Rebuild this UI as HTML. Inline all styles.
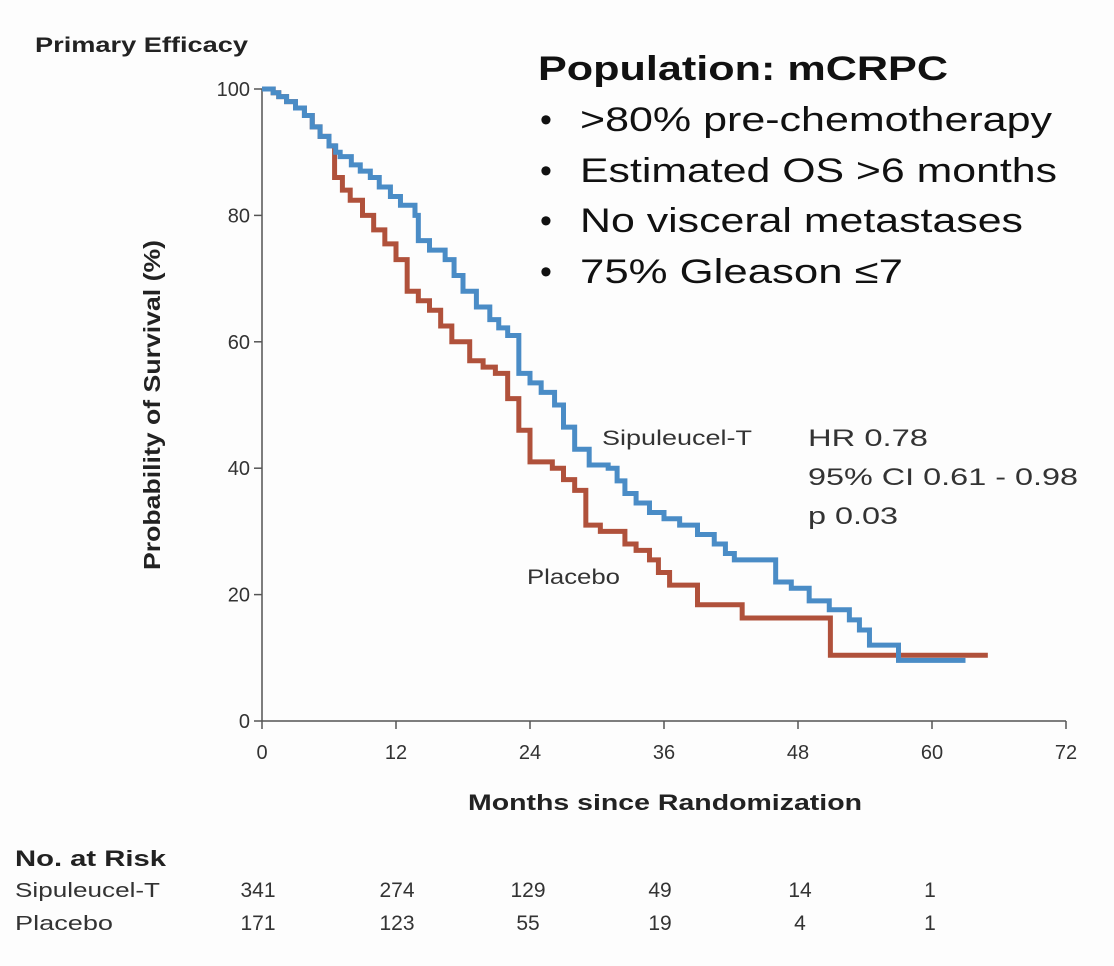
<!DOCTYPE html>
<html><head><meta charset="utf-8"><style>
body{margin:0;background:#fff;}
svg{display:block;font-family:"Liberation Sans",sans-serif;}
</style></head><body>
<svg width="1114" height="966" viewBox="0 0 1114 966">
<rect width="1114" height="966" fill="#fdfdfd"/>
<text x="35" y="52" font-size="21" font-weight="bold" fill="#222" textLength="213" lengthAdjust="spacingAndGlyphs">Primary Efficacy</text>
<g fill="#111">
<text x="538" y="80" font-size="34" font-weight="bold" textLength="410" lengthAdjust="spacingAndGlyphs">Population: mCRPC</text>
<text x="540" y="131" font-size="34">•</text>
<text x="580" y="131" font-size="34" textLength="472" lengthAdjust="spacingAndGlyphs">&gt;80% pre-chemotherapy</text>
<text x="540" y="182" font-size="34">•</text>
<text x="580" y="182" font-size="34" textLength="477" lengthAdjust="spacingAndGlyphs">Estimated OS &gt;6 months</text>
<text x="540" y="232" font-size="34">•</text>
<text x="580" y="232" font-size="34" textLength="443" lengthAdjust="spacingAndGlyphs">No visceral metastases</text>
<text x="540" y="283" font-size="34">•</text>
<text x="580" y="283" font-size="34" textLength="323" lengthAdjust="spacingAndGlyphs">75% Gleason ≤7</text>
</g>
<g fill="#333" font-size="24">
<text x="808" y="446" textLength="120" lengthAdjust="spacingAndGlyphs">HR 0.78</text>
<text x="808" y="485" textLength="270" lengthAdjust="spacingAndGlyphs">95% CI 0.61 - 0.98</text>
<text x="808" y="524" textLength="90" lengthAdjust="spacingAndGlyphs">p 0.03</text>
</g>
<g id="axes"></g>
<g id="curves"></g>
<text x="602" y="445" font-size="21" fill="#333" textLength="150" lengthAdjust="spacingAndGlyphs">Sipuleucel-T</text>
<text x="527" y="584" font-size="21" fill="#333" textLength="93" lengthAdjust="spacingAndGlyphs">Placebo</text>
<text transform="translate(160,405) rotate(-90)" text-anchor="middle" font-size="23" font-weight="bold" fill="#222" textLength="330" lengthAdjust="spacingAndGlyphs">Probability of Survival (%)</text>
<text x="665" y="810" text-anchor="middle" font-size="22" font-weight="bold" fill="#222" textLength="394" lengthAdjust="spacingAndGlyphs">Months since Randomization</text>
<text x="15" y="866" font-size="22" font-weight="bold" fill="#222" textLength="151" lengthAdjust="spacingAndGlyphs">No. at Risk</text>
<text x="15" y="897" font-size="20" fill="#333" textLength="145" lengthAdjust="spacingAndGlyphs">Sipuleucel-T</text>
<text x="15" y="930" font-size="20" fill="#333" textLength="98" lengthAdjust="spacingAndGlyphs">Placebo</text>
<g id="risk"></g>
</svg>
<script>
const xTicks=[0,12,24,36,48,60,72];
const yTicks=[0,20,40,60,80,100];
const sipMonths=[0,1,1.5,2.2,3,3.8,4.5,5.2,6,6.6,7,8,8.8,9.7,10.5,11.5,12.4,13.7,14,15,16.4,17.2,18,19.2,20.4,21.2,22,23,24,25,26.2,27,28,29.3,31,31.8,32.5,33.5,34.7,36,37.4,39,40.5,41.5,42.3,44.6,46,47.4,49,50.8,52.6,53.5,54.4,56.7,57,63];
const sipSurv=[100,99.4,98.8,98,97,95.8,94,92.5,91,90,89.3,88,87,86,84.5,83,81.6,80,76,74.5,73,70.5,68,65.5,63.5,62.2,61,55,53.5,52,50,46.5,43,40.5,40,38,36,34.5,33,32,31,29.5,28,26.5,25.5,25.5,22,21,19,17.6,16,14.4,12,12,9.6,9.6];
const plaMonths=[0,1,1.5,2.2,3,3.8,4.5,5.2,6,6.5,7.2,7.9,9,10,11,12,13,14,15,16,17,18.6,19.8,20.9,22,23,24,26,27,28,29,30.3,32.5,33.5,34.7,35.5,36.5,39,43,50.9,65];
const plaSurv=[100,99.4,98.8,98,97,95.8,94,92.5,91,86,84,82.4,80,77.7,75.5,73,68,66.5,65,62.5,60,57,56,55,51,46,41,40,38.2,36.5,31,30,28,27,25.5,23.5,21.5,18.4,16.3,10.4,10.4];
const riskSip=[341,274,129,49,14,1];
const riskPla=[171,123,55,19,4,1];
const NS='http://www.w3.org/2000/svg';
const X=m=>262+m*(1066-262)/72;
const Y=p=>721-p*(721-89)/100;
function mk(t,a,p){const e=document.createElementNS(NS,t);for(const k in a)e.setAttribute(k,a[k]);p.appendChild(e);return e;}
const ax=document.getElementById('axes');
const yl=mk('line',{x1:262,y1:89,x2:262,y2:721,stroke:'#555','stroke-width':1.5},ax);


const xl=mk('line',{x1:262,y1:721,x2:1066,y2:721,stroke:'#555','stroke-width':1.5},ax);


yTicks.forEach(v=>{
 mk('line',{x1:254,y1:Y(v),x2:262,y2:Y(v),stroke:'#555','stroke-width':1.5},ax);
 const t=mk('text',{x:250,y:Y(v)+7,'text-anchor':'end','font-size':20,fill:'#333'},ax);t.textContent=v;
 
 
});
xTicks.forEach(v=>{
 mk('line',{x1:X(v),y1:721,x2:X(v),y2:729,stroke:'#555','stroke-width':1.5},ax);
 const t=mk('text',{x:X(v),y:759,'text-anchor':'middle','font-size':20,fill:'#333'},ax);t.textContent=v;
 
 
});
function step(ms,ss){let d='M'+X(ms[0])+','+Y(ss[0]);for(let i=1;i<ms.length;i++){d+=' H'+X(ms[i])+' V'+Y(ss[i]);}return d;}
const cv=document.getElementById('curves');
const pp=mk('path',{d:step(plaMonths,plaSurv),fill:'none',stroke:'#b0513b','stroke-width':5},cv);


const sp=mk('path',{d:step(sipMonths,sipSurv),fill:'none',stroke:'#4a8cc6','stroke-width':5},cv);


const rk=document.getElementById('risk');
const cx=[258,397,528,660,800,930];
riskSip.forEach((v,i)=>{const t=mk('text',{x:cx[i],y:897,'text-anchor':'middle','font-size':21,fill:'#333'},rk);t.textContent=v;
 
 });
riskPla.forEach((v,i)=>{const t=mk('text',{x:cx[i],y:930,'text-anchor':'middle','font-size':21,fill:'#333'},rk);t.textContent=v;
 
 });
</script>
</body></html>
